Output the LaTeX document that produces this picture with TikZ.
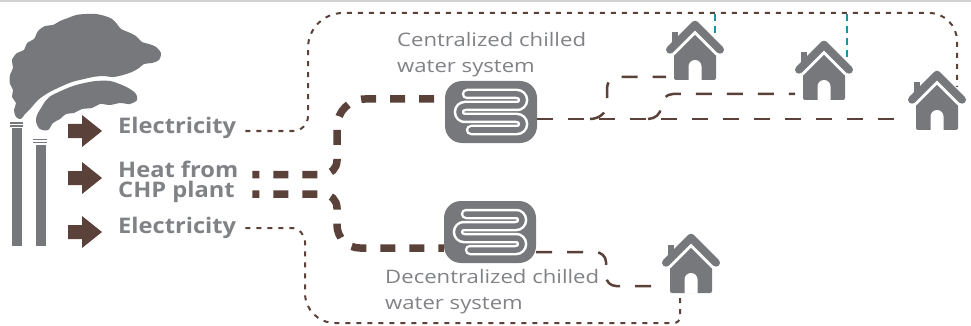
\documentclass[tikz,border=0pt]{standalone}
\usepackage{fontspec}
\setmainfont{Open Sans}
\newfontfamily\boldlabelfont{Open Sans}[FakeStretch=1.10]
\newfontfamily\plainlabelfont{Open Sans}[FakeStretch=1.19]
\usetikzlibrary{calc}
\definecolor{icongray}{HTML}{77787B}
\definecolor{textgray}{HTML}{808285}
\definecolor{pipebrown}{HTML}{5A4139}
\definecolor{feedteal}{HTML}{1B93A5}
\definecolor{rulegray}{HTML}{D2D2D2}

\tikzset{
  boldlabel/.style={font=\boldlabelfont\bfseries\fontsize{21.5}{20}\selectfont, text=textgray,
    inner sep=0pt, anchor=base west, align=left},
  plainlabel/.style={font=\plainlabelfont\fontsize{18.6}{25.5}\selectfont, text=textgray,
    inner sep=0pt, anchor=base west, align=left},
  elec/.style={pipebrown, line width=2pt, dash pattern=on 5pt off 6pt},
  chill/.style={pipebrown, line width=2.5pt, dash pattern=on 16pt off 15pt},
  heat/.style={pipebrown, line width=7.5pt, dash pattern=on 15pt off 14pt, dash phase=8pt},
  feed/.style={feedteal, line width=2.5pt, dash pattern=on 7pt off 5pt},
  hx/.style={rectangle, rounded corners=17pt, fill=icongray, minimum width=92pt,
    minimum height=62pt, inner sep=0pt,
    path picture={
      \begin{scope}[shift={(path picture bounding box.center)}]
        \draw[white, line width=10.5pt, rounded corners=6pt, line cap=round]
          (-24,-18) -- (32,-18) -- (32,-6) -- (-32,-6) -- (-32,6)
          -- (32,6) -- (32,18) -- (-20,18);
        \draw[icongray, line width=5.5pt, rounded corners=6pt, line cap=round]
          (-24,-18) -- (32,-18) -- (32,-6) -- (-32,-6) -- (-32,6)
          -- (32,6) -- (32,18) -- (-20,18);
      \end{scope}}},
  house/.pic={
    \coordinate (-o) at (0,0);
    \fill[icongray, rounded corners=2pt] (-21,0) -- (-21,-40) -- (0,-61) -- (21,-40) -- (21,0) -- cycle;
    \draw[white, line width=14pt, line cap=round, line join=round] (-25,-30.3) -- (0,-55.3) -- (25,-30.3);
    \draw[icongray, line width=8pt, line cap=round, line join=round] (-25,-30.3) -- (0,-55.3) -- (25,-30.3);
    \fill[icongray] (-23,-36) rectangle (-17,-48);
    \fill[white] (-6.5,0.5) -- (-6.5,-13.5) arc[start angle=180, end angle=360, radius=6.5]
      -- (6.5,0.5) -- cycle;
  },
  blockarrow/.pic={
    \fill[pipebrown] (-17,-7) -- (-3,-7) -- (-3,-16) -- (17,0) -- (-3,16) -- (-3,7) -- (-17,7) -- cycle;
  }
}

\begin{document}
\begin{tikzpicture}[x=1pt,y=-1pt]
\useasboundingbox (0,0) rectangle (971,326);

% thin rule along the top edge
\draw[rulegray, line width=1.5pt] (0,1) -- (971,1);

% smoke cloud
\fill[icongray] plot[smooth cycle, tension=0.55] coordinates {
  (16,117) (14,110) (16,103) (12,97) (13,90) (10,84) (10,75) (13,68) (12,60) (17,53)
  (24,50) (27,43) (34,39) (38,31) (45,26) (53,25) (60,21) (68,18) (76,15) (86,14)
  (96,14) (105,16) (112,19) (117,24) (121,29) (128,32) (136,36) (142,42) (149,44)
  (156,47) (161,53) (159,60) (152,63) (144,64) (139,68) (132,72) (123,75) (113,77)
  (103,76) (93,77) (84,79) (72,82) (60,87) (48,93) (38,100) (31,108) (25,114) (21,119)};
\fill[icongray] plot[smooth cycle, tension=0.55] coordinates {
  (40,129) (36,122) (37,115) (41,108) (44,103) (50,96.5) (61.5,90.7) (73,86) (84.5,83)
  (96,81) (110,81) (122,85) (130,89) (136,94) (137,100) (130,104) (120,103) (110,105)
  (100,104) (92,108) (82,109) (74,113) (66,114) (60,119) (53,123) (48,130)};

% chimneys
\fill[icongray] (10,122) rectangle (23,123.6);
\fill[icongray] (10,125) rectangle (23,126.6);
\fill[icongray] (12,128) rectangle (22,246);
\fill[icongray] (33,138.6) rectangle (47,140.2);
\fill[icongray] (33,141.6) rectangle (47,143.2);
\fill[icongray] (36,144.5) rectangle (46,246);

% output arrows
\pic at (85,131) {blockarrow};
\pic at (85,178) {blockarrow};
\pic at (85,232) {blockarrow};

% labels (base anchor sits on the last line)
\node[boldlabel] (elecA) at (118,133) {Electricity};
\node[boldlabel] (heatL) at (118,197) {Heat from\\CHP plant};
\node[boldlabel] (elecB) at (118,233) {Electricity};
\node[plainlabel] (cenL) at (397,72.5) {Centralized chilled\\water system};
\node[plainlabel] (decL) at (385,309) {Decentralized chilled\\water system};

% chilled water units and houses
\node[hx] (hxC) at (491,112) {};
\node[hx] (hxD) at (490,232) {};
\pic (h1) at (695,80) {house};
\pic (h2) at (824,100) {house};
\pic (h3) at (937,130) {house};
\pic (h4) at (691,293) {house};

\coordinate (topline) at (0,13);

% electricity, upper route
\draw[elec] ($(elecA.base east)+(9,-2)$) -- (293,131)
  arc[start angle=90, end angle=0, radius=15] -- (308,48)
  arc[start angle=180, end angle=270, radius=35] -- (929,13)
  arc[start angle=270, end angle=360, radius=28] -- ($(h3-o)+(20,-43)$);
% electricity, lower route
\draw[elec] ($(elecB.base east)+(9,-5)$) -- (291,228)
  arc[start angle=270, end angle=360, radius=14] -- (305,293)
  arc[start angle=180, end angle=90, radius=30] -- (674,323)
  arc[start angle=90, end angle=0, radius=6] -- ($(h4-o)+(-11,0)$);
% feeds to the two upper houses
\draw[feed] ($(h1-o)+(20,-47)$) coordinate (t1) -- (t1 |- topline);
\draw[feed] ($(h2-o)+(23,-43)$) coordinate (t2) -- (t2 |- topline);

% heat from the CHP plant
\draw[heat] ($(heatL.base east)+(14,-22.5)$) -- (323,174.5)
  arc[start angle=90, end angle=0, radius=14] -- (337,127)
  arc[start angle=180, end angle=270, radius=28] -- ($(hxC.west)+(0,-13)$);
\draw[heat] ($(heatL.base east)+(14,-3)$) -- (323,194)
  arc[start angle=270, end angle=360, radius=14] -- (337,225)
  arc[start angle=180, end angle=90, radius=23] -- ($(hxD.west)+(0,16)$);

% chilled water, centralized network
\draw[chill] ($(hxC.east)+(0,7)$) -- ($(h3-o)+(-29,-11)$);
\draw[chill] (590,119) to[out=0, in=-90] (607,104) -- (607,88)
  to[out=90, in=180] (618,77) -- ($(h1-o)+(-29,-3)$);
\draw[chill] (648,119) to[out=0, in=-90] (661,107)
  to[out=90, in=180] (673,94) -- ($(h2-o)+(-29,-6)$);
% chilled water, decentralized unit
\draw[chill] ($(hxD.east)+(0,20)$) -- (595,252) to[out=0, in=90] (606,262) -- (606,276)
  to[out=-90, in=180] (616,286) -- ($(h4-o)+(-29,-7)$);
\end{tikzpicture}
\end{document}
